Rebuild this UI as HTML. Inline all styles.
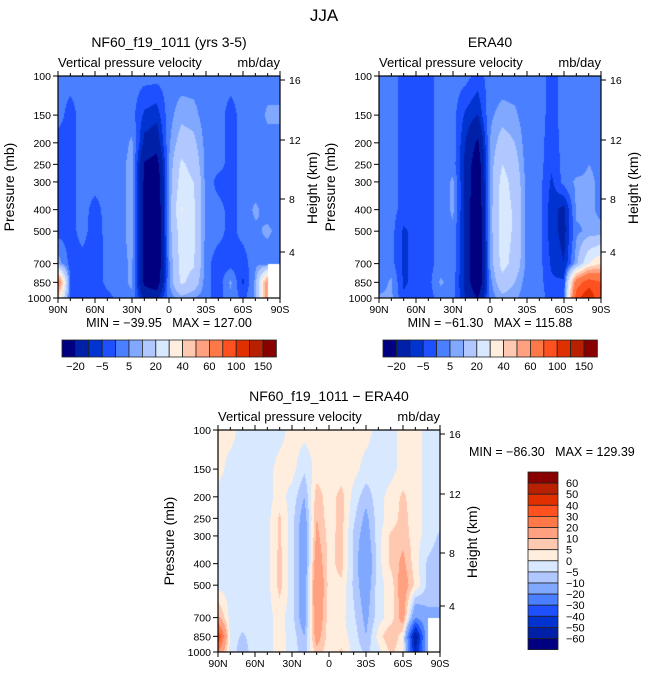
<!DOCTYPE html>
<html><head><meta charset="utf-8">
<style>
body{margin:0;background:#fff;width:648px;height:676px;overflow:hidden;position:relative;font-family:"Liberation Sans",sans-serif}
canvas{position:absolute}
svg{position:absolute;left:0;top:0}
text{font-family:"Liberation Sans",sans-serif;fill:#000;white-space:pre}
</style></head><body>
<canvas id="c1" width="222" height="222" style="left:58px;top:76px"></canvas>
<canvas id="c2" width="222" height="222" style="left:379px;top:76px"></canvas>
<canvas id="c3" width="222" height="222" style="left:218px;top:430px"></canvas>
<svg id="ov" width="648" height="676">
<text x="324" y="21" font-size="17" text-anchor="middle" fill="#333">JJA</text>
</svg>
<script>
const lats=[90,80,70,60,50,40,30,20,10,0,-10,-20,-30,-40,-50,-60,-70,-80,-90];
const pLevels=[100,150,200,250,300,400,500,700,850,1000];
const topLevels=[-20,-10,-5,0,5,10,20,30,40,50,60,80,100,120,150];
const diffLevels=[-60,-50,-40,-30,-20,-10,-5,0,5,10,20,30,40,50,60];
const topTickLabels=['-20','-5','5','20','40','60','100','150'];
const xTickLabels=['90N','60N','30N','0','30S','60S','90S'];
const pTickLabels=[100,150,200,250,300,400,500,700,850,1000];
const hTickLabels=['16','12','8','4'];
const modelVals=[
[2,2,2,2,2,2,2,2,2,2,2,2,2,2,2,2,2,2,2],
[2,-2,2,2,2,2,2,-6,-8,3,8,7,2,2,-2,2,2,6,6],
[-2,-2,2,2,2,2,6,-12,-15,4,14,12,3,2,-2,2,2,3,3],
[-2,-2,2,2,2,3,7,-21,-25,5,22,16,3,2,-2,2,2,3,3],
[-2,-2,2,2,2,3,7,-22,-30,5,25,20,3,-2,-2,2,2,3,3],
[-2,-2,2,-2,2,3,7,-22,-32,6,31,22,3,2,-2,2,6,3,3],
[-2,-2,2,-3,2,3,7,-22,-32,6,26,22,3,2,-2,2,4,6,3],
[8,-2,-2,-4,2,3,6,-22,-32,4,24,21,2,-3,-2,-3,4,2,2],
[70,-2,-2,-4,2,3,6,-22,-28,4,22,16,2,-3,6,-6,6,60,null],
[40,-2,-2,-4,-2,2,4,-12,-12,2,8,5,2,-3,4,-2,6,60,null]];
const eraVals=[
[2,2,-2,-2,-2,2,2,2,-2,2,2,2,2,2,-2,2,2,2,2],
[2,2,-2,-2,-2,2,2,-6,-10,4,7,6,2,2,-2,2,2,2,2],
[2,2,-2,-3,-2,2,3,-10,-22,5,14,10,2,2,-3,2,2,4,2],
[2,2,-2,-3,-2,2,3,-12,-28,6,20,14,2,2,-4,2,2,5,4],
[2,2,-2,-3,-2,2,6,-12,-30,6,24,16,3,2,-6,2,6,6,4],
[2,2,-2,-3,-2,2,6,-12,-32,6,26,18,3,2,-8,-12,6,6,4],
[2,2,-6,-3,-2,2,4,-12,-32,6,26,18,3,2,-8,-12,4,6,6],
[2,2,-6,-3,-2,2,4,-12,-32,5,24,16,3,2,-6,-10,8,30,40],
[2,6,-6,-3,-2,6,2,-12,-32,3,16,10,2,2,-4,-4,70,90,80],
[6,6,-4,-3,-2,2,2,-10,-20,2,8,6,2,2,-2,-2,90,120,80]];
const diffVals=[
[2,2,-2,-2,-2,-2,2,2,2,2,2,2,2,-2,-2,2,2,-2,-2],
[2,-2,-2,-2,-2,2,2,-4,2,2,2,2,-2,-2,-2,2,2,-2,-2],
[-2,-2,-2,-2,-2,2,-2,-10,8,2,7,-2,-8,-2,2,6,2,-2,-2],
[-2,-2,-2,-2,-2,6,-3,-14,10,2,7,-4,-12,-2,2,7,2,-2,-2],
[-2,-2,-2,-2,-2,6,-3,-16,12,3,7,-6,-14,-2,6,8,2,-2,-6],
[-2,-2,-2,-2,-2,7,-3,-16,16,3,7,-6,-18,-2,6,12,2,-6,-8],
[-2,-2,-2,-2,-2,7,-3,-16,20,3,4,-6,-15,-2,2,15,4,-6,-10],
[12,-2,-2,-2,-2,2,-3,-15,18,2,2,-4,-12,-2,2,14,-20,-12,-10],
[40,-2,-6,-2,-2,2,-2,-10,14,2,2,-2,-10,2,10,2,-60,-10,null],
[20,-2,-8,-2,-2,2,-2,-8,8,2,6,-2,-6,-2,6,2,-50,-10,null]];
const colors=['#000080','#0020a8','#0033d0','#1e50ff','#4a80ff','#80a8ff','#b0c8ff','#d8e8ff','#ffeedd','#ffc8b0','#ffa080','#ff7848','#ff5020','#e03000','#b82000','#880000'];
const W=222,H=222;
function latToFrac(lat){return (90-lat)/180;}
function pToFrac(p){return Math.log10(p/100);}
function hex(c){return [parseInt(c.substr(1,2),16),parseInt(c.substr(3,2),16),parseInt(c.substr(5,2),16)];}
function drawField(id,vals,levels){
  const cv=document.getElementById(id),ctx=cv.getContext('2d');
  const img=ctx.createImageData(W,H);const rgb=colors.map(hex);
  const lp=pLevels.map(p=>pToFrac(p));
  for(let py=0;py<H;py++){
    const f=(py+0.5)/H;let i=0;while(i<lp.length-2&&f>lp[i+1])i++;
    const t=Math.min(1,Math.max(0,(f-lp[i])/(lp[i+1]-lp[i])));
    for(let px=0;px<W;px++){
      const g=(px+0.5)/W*(lats.length-1);let j=Math.min(lats.length-2,Math.floor(g));const s=g-j;
      const a=vals[i][j],b=vals[i][j+1],c=vals[i+1][j],d=vals[i+1][j+1];
      const k=(py*W+px)*4;
      if((a===null)||(b===null&&s>0)||(c===null&&t>0)||(d===null&&s>0&&t>0)){img.data[k]=255;img.data[k+1]=255;img.data[k+2]=255;img.data[k+3]=255;continue;}
      const v=(1-t)*((1-s)*a+s*(b??0))+t*((1-s)*(c??0)+s*(d??0));
      let idx=0;while(idx<levels.length&&v>=levels[idx])idx++;
      const col=rgb[idx];img.data[k]=col[0];img.data[k+1]=col[1];img.data[k+2]=col[2];img.data[k+3]=255;
    }
  }
  ctx.putImageData(img,0,0);
}
drawField('c1',modelVals,topLevels);
drawField('c2',eraVals,topLevels);
drawField('c3',diffVals,diffLevels);
const svg=document.getElementById('ov');const NS='http://www.w3.org/2000/svg';
function el(tag,attrs,txt){const e=document.createElementNS(NS,tag);for(const k in attrs)e.setAttribute(k,attrs[k]);if(txt!==undefined)e.textContent=txt;svg.appendChild(e);return e;}
const hOffsets=[4,64,123,176];
function axes(x0,y0,title,prefix,minmax){
  let e=el('text',{x:x0+W/2,y:y0-29,'font-size':14,'text-anchor':'middle',fill:'#333'},title);
  
  e=el('text',{x:x0,y:y0-9,'font-size':13,fill:'#222'},'Vertical pressure velocity');
  
  e=el('text',{x:x0+W,y:y0-9,'font-size':13,'text-anchor':'end',fill:'#222'},'mb/day');
  
  e=el('rect',{x:x0,y:y0,width:W,height:H,fill:'none',stroke:'#000','stroke-width':1.2});
  
  for(let l=90;l>=-90;l-=10){
    const x=x0+latToFrac(l)*W,maj=(l%30===0),len=maj?5:3;
    el('line',{x1:x,y1:y0+H,x2:x,y2:y0+H+len,stroke:'#000'});
    el('line',{x1:x,y1:y0,x2:x,y2:y0-len,stroke:'#000'});
  }
  xTickLabels.forEach((lb,q)=>{const x=x0+q/6*W;
    const t=el('text',{x:x,y:y0+H+15,'font-size':10.5,'text-anchor':'middle'},lb);
    });
  pTickLabels.forEach(p=>{const y=y0+pToFrac(p)*H;
    el('line',{x1:x0,y1:y,x2:x0-5,y2:y,stroke:'#000'});
    const t=el('text',{x:x0-7,y:y+4,'font-size':10.5,'text-anchor':'end'},String(p));
    });
  hTickLabels.forEach((h,q)=>{const y=y0+hOffsets[q];
    el('line',{x1:x0+W,y1:y,x2:x0+W+5,y2:y,stroke:'#000'});
    const t=el('text',{x:x0+W+9,y:y+4,'font-size':10.5},h);
    });
  const cy=y0+H/2;
  e=el('text',{x:0,y:0,'font-size':14,'text-anchor':'middle',fill:'#555',transform:`translate(${x0-44},${cy}) rotate(-90)`},'Pressure (mb)');
  
  e=el('text',{x:0,y:0,'font-size':14,'text-anchor':'middle',fill:'#555',transform:`translate(${x0+W+37},${y0+112}) rotate(-90)`},'Height (km)');
  
  if(minmax){e=el('text',{x:x0+W/2,y:y0+H+29,'font-size':12.5,'text-anchor':'middle'},minmax);
    }
}
axes(58,76,'NF60_f19_1011 (yrs 3-5)','model','MIN = −39.95\u00a0\u00a0\u00a0MAX = 127.00');
axes(379,76,'ERA40','era40','MIN = −61.30\u00a0\u00a0\u00a0MAX = 115.88');
axes(218,430,'NF60_f19_1011 − ERA40','diff',null);
let mm=el('text',{x:469,y:456,'font-size':12.5},'MIN = −86.30\u00a0\u00a0\u00a0MAX = 129.39');

function hbar(x0,prefix){
  const bw=13.4,y=340,h=17;
  colors.forEach((c,q)=>{const r=el('rect',{x:x0+q*bw,y:y,width:bw,height:h,fill:c,stroke:'#222','stroke-width':0.8});
    });
  topTickLabels.forEach((lb,q)=>{const t=el('text',{x:x0+(1+2*q)*bw,y:y+h+13,'font-size':11,'text-anchor':'middle'},lb.replace('-','−'));
    });
}
hbar(62,'model');hbar(383,'era40');
const vb=11.1,vx=528,vy=472;
for(let q=0;q<16;q++){const r=el('rect',{x:vx,y:vy+q*vb,width:30,height:vb,fill:colors[15-q],stroke:'#222','stroke-width':0.8});
  }
for(let q=0;q<15;q++){const v=diffLevels[14-q];const t=el('text',{x:566,y:vy+(q+1)*vb+4,'font-size':11},String(v).replace('-','−'));
  }
</script>
</body></html>
